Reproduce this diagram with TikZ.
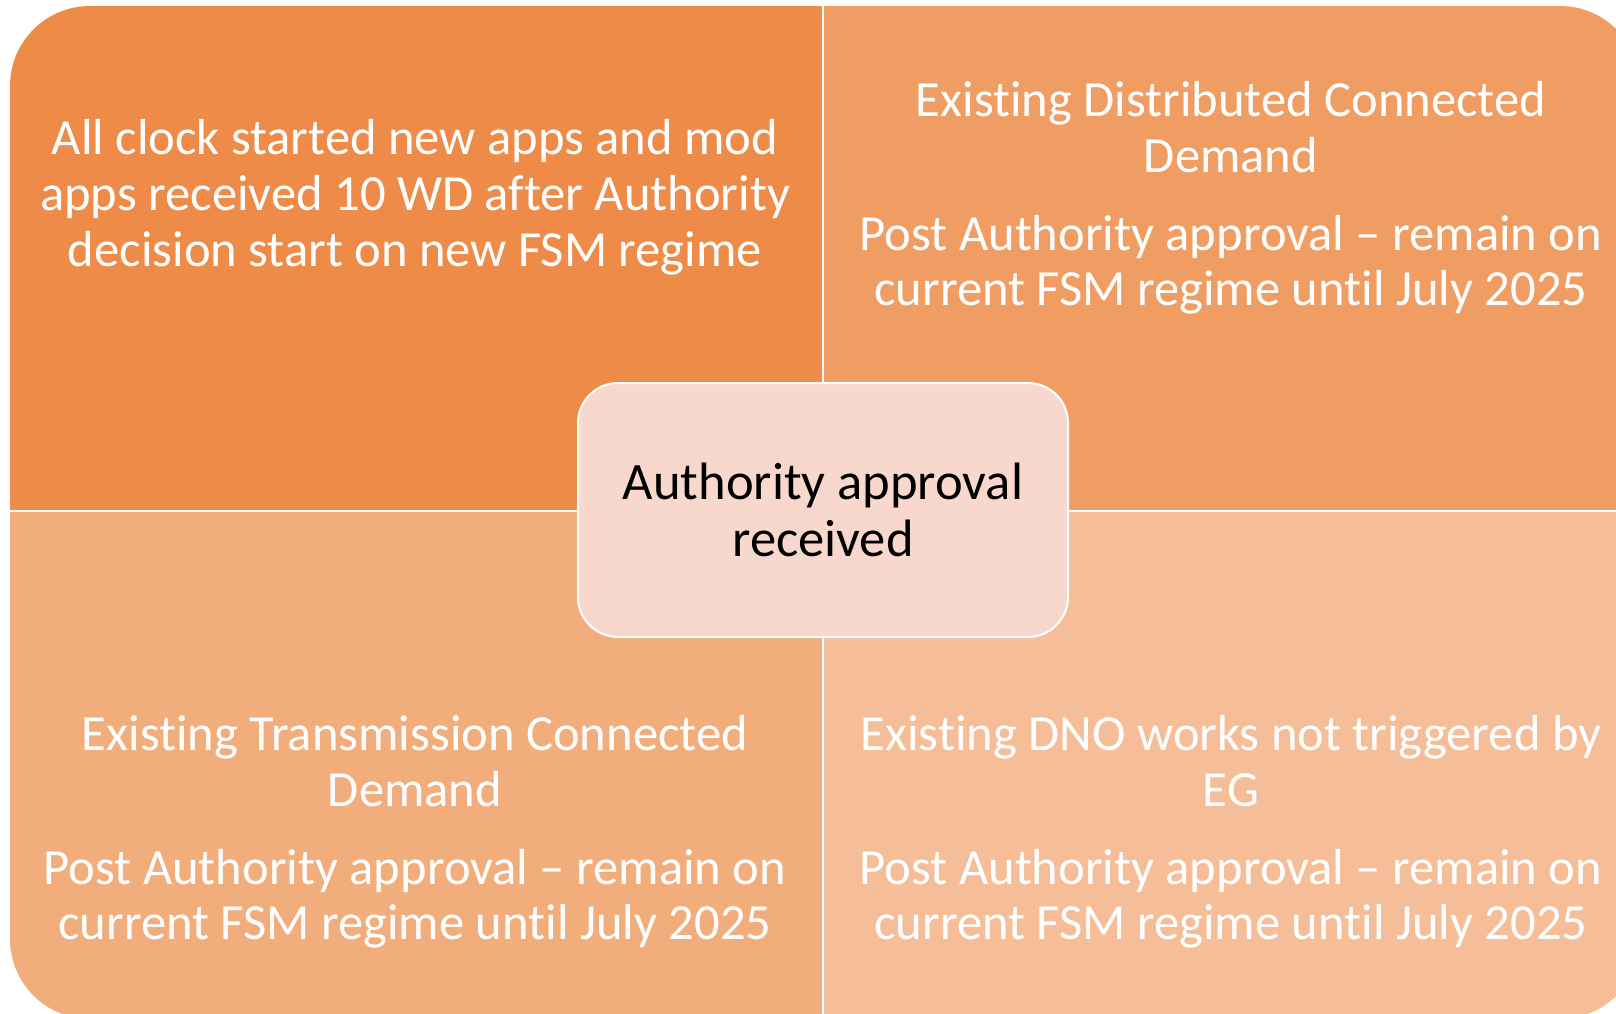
\documentclass[tikz,border=0pt]{standalone}
\usepackage{fontspec}
\setmainfont{Carlito}[Ligatures=NoCommon]
\definecolor{qtl}{HTML}{EE8B48}
\definecolor{qtr}{HTML}{F09D63}
\definecolor{qbl}{HTML}{F2AD7D}
\definecolor{qbr}{HTML}{F5BE98}
\definecolor{hubfill}{HTML}{F8D8CC}
\tikzset{
  quadtext/.style={text=white, align=center, inner sep=0pt,
    font=\fontsize{25.3pt}{27.9pt}\selectfont},
  hubbox/.style={fill=hubfill, draw=white, line width=1pt,
    rounded corners=20pt, minimum width=245pt, minimum height=127pt,
    align=center, text=black, inner sep=0pt,
    font=\fontsize{26.3pt}{28.3pt}\selectfont},
  divider/.style={white, line width=1.35pt}
}
\begin{document}
\begin{tikzpicture}[x=0.5pt,y=-0.5pt]
\useasboundingbox (0,0) rectangle (1616,1013);
\clip (0,0) rectangle (1616,1013);
% four quadrants cut from one rounded panel
\begin{scope}
  \clip (0,0) rectangle (823,511);
  \fill[qtl, rounded corners=40pt] (10,6) rectangle (1640,1019);
\end{scope}
\begin{scope}
  \clip (823,0) rectangle (1700,511);
  \fill[qtr, rounded corners=40pt] (10,6) rectangle (1640,1019);
\end{scope}
\begin{scope}
  \clip (0,511) rectangle (823,1100);
  \fill[qbl, rounded corners=40pt] (10,6) rectangle (1640,1019);
\end{scope}
\begin{scope}
  \clip (823,511) rectangle (1700,1100);
  \fill[qbr, rounded corners=40pt] (10,6) rectangle (1640,1019);
\end{scope}
% white seams between the quadrants
\draw[divider] (823,0) -- (823,1100);
\draw[divider] (0,511) -- (1700,511);
% quadrant texts
\node[quadtext] (tl) at (415,197) {All clock started new apps and mod\\apps received 10 WD after Authority\\decision start on new FSM regime};
\node[quadtext] (tr) at (1231,198) {Existing Distributed Connected\\Demand\\[11pt]Post Authority approval -- remain on\\current FSM regime until July 2025};
\node[quadtext] (bl) at (415,832) {Existing Transmission Connected\\Demand\\[11pt]Post Authority approval -- remain on\\current FSM regime until July 2025};
\node[quadtext] (br) at (1231,832) {Existing DNO works not triggered by\\EG\\[11pt]Post Authority approval -- remain on\\current FSM regime until July 2025};
% central box
\node[hubbox] (hub) at (823,510) {Authority approval\\received};
\end{tikzpicture}
\end{document}
